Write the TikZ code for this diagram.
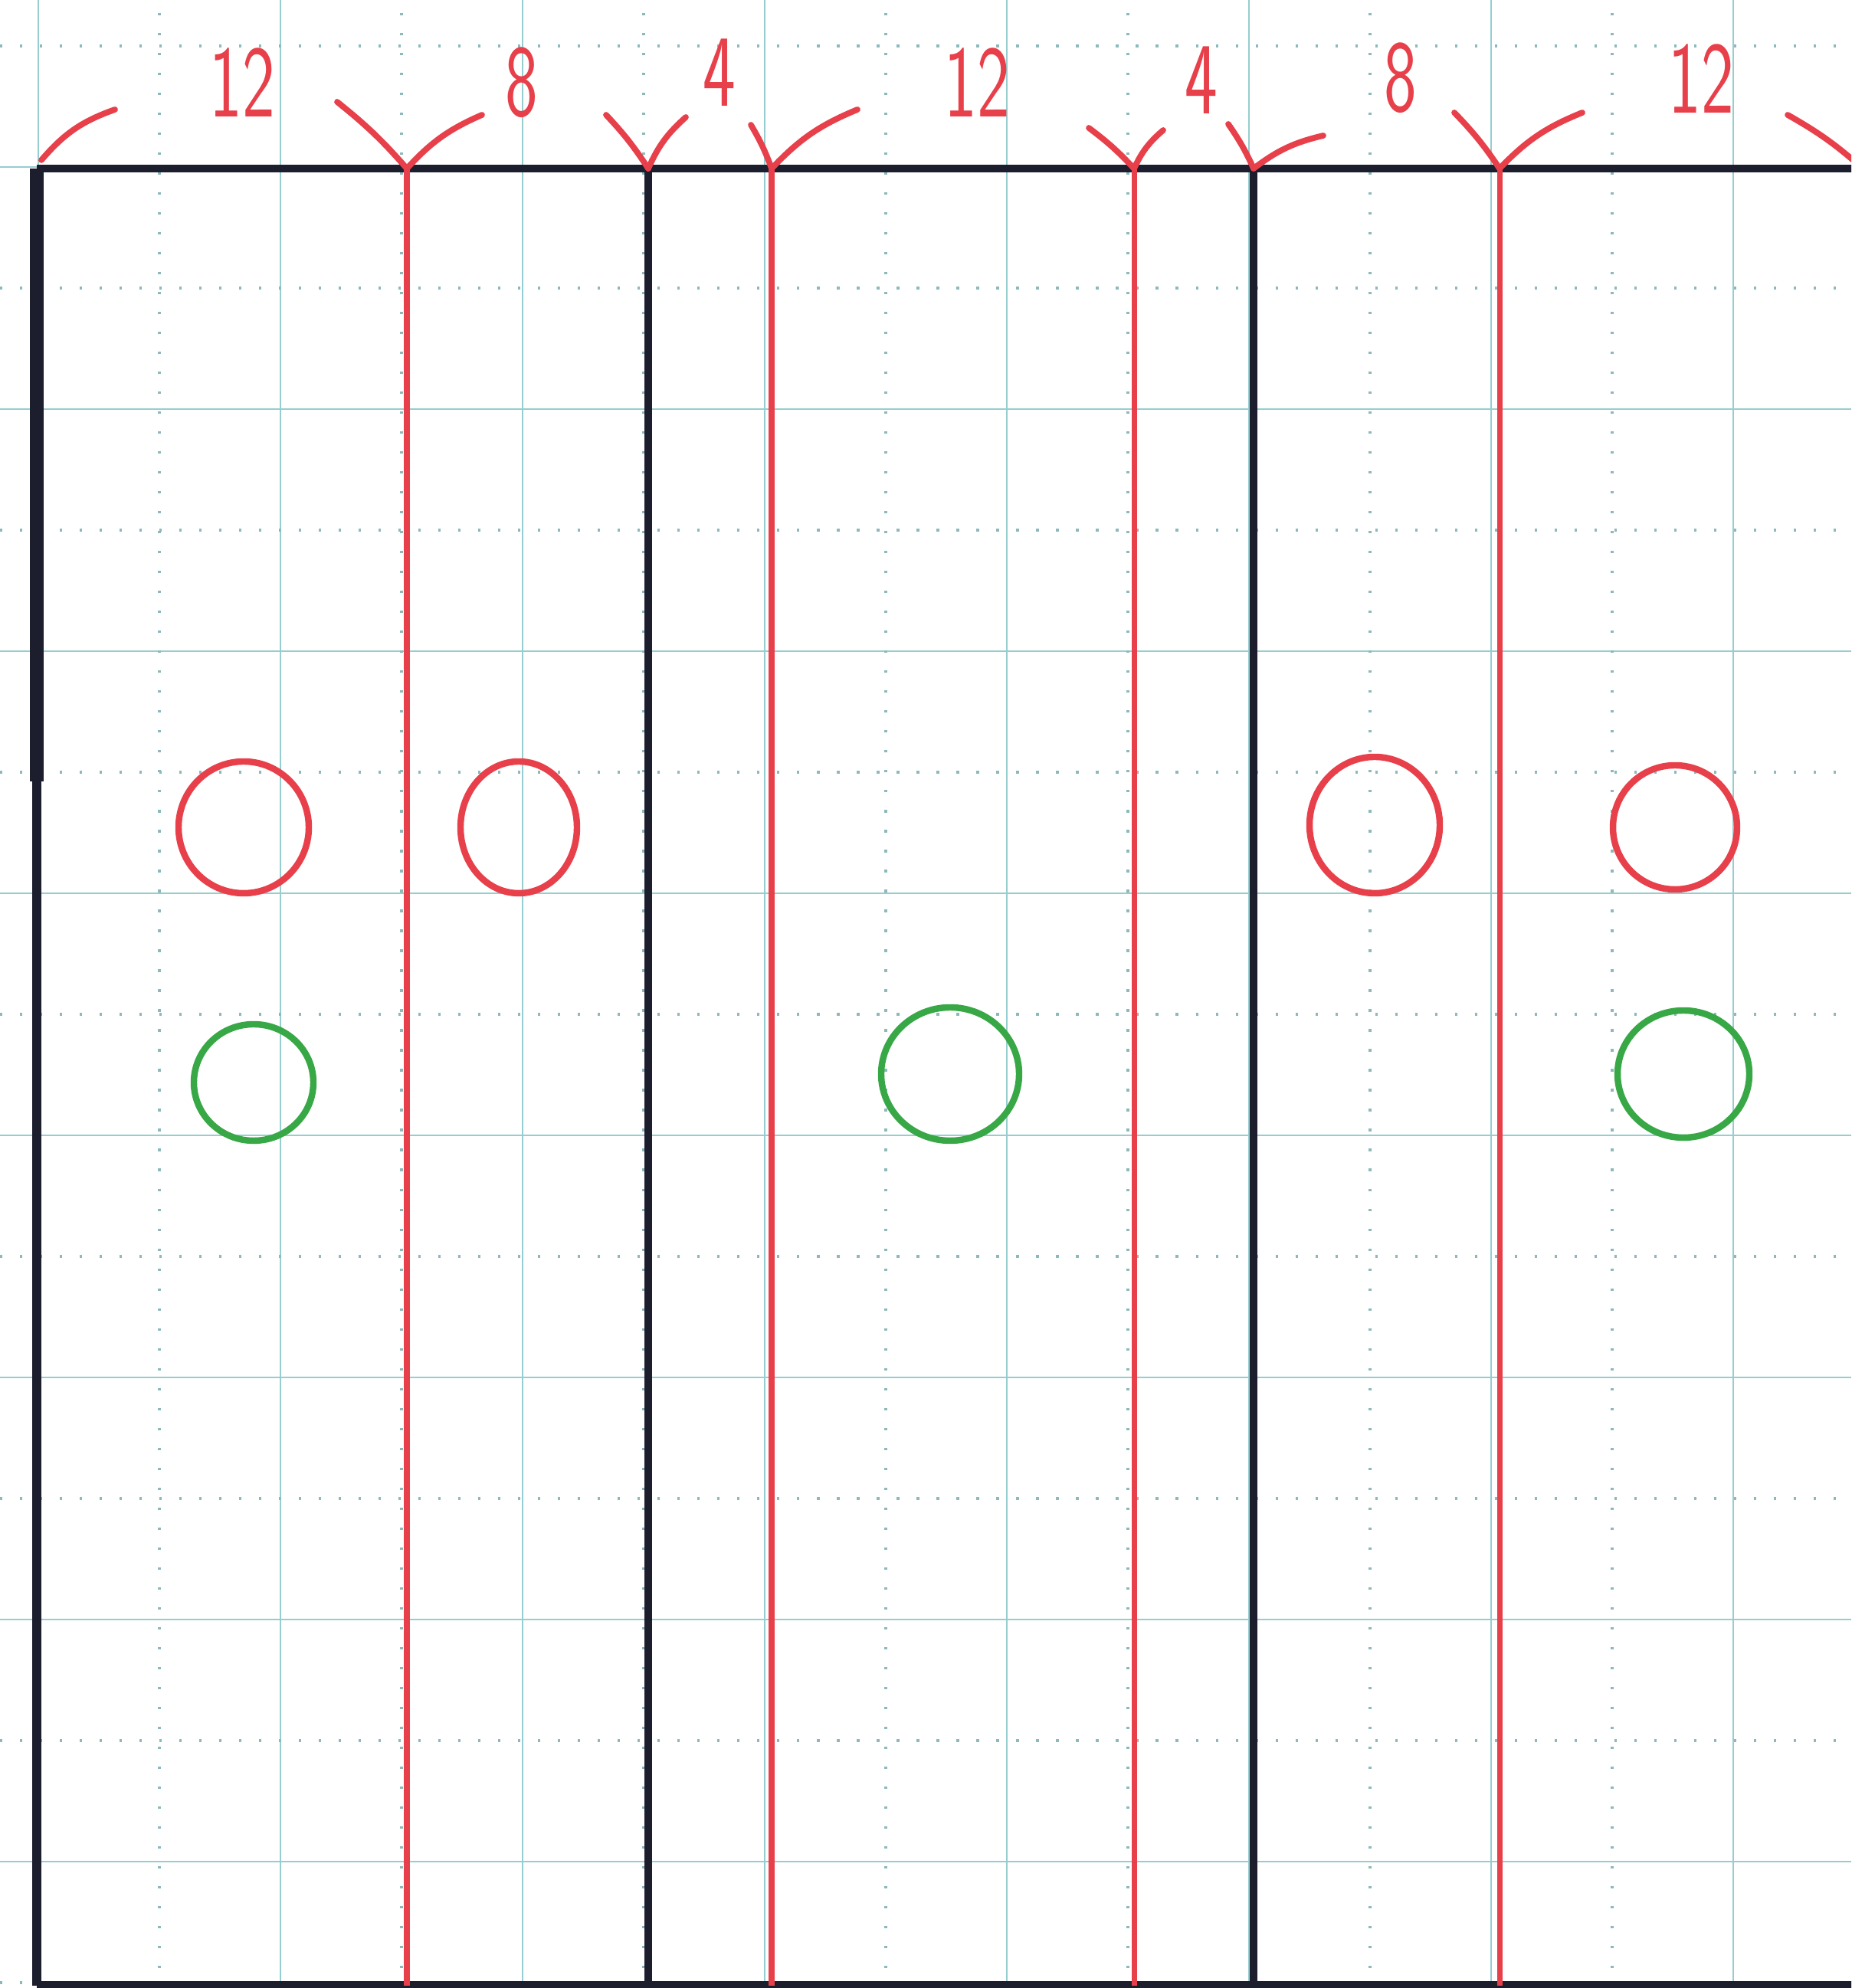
\documentclass[tikz,border=0pt]{standalone}
\usepackage{tikz}
\usetikzlibrary{positioning}

\definecolor{rasterfarbe}{RGB}{150,205,207}
\definecolor{punktfarbe}{RGB}{140,185,188}
\definecolor{rotstift}{RGB}{232,64,74}
\definecolor{gruenstift}{RGB}{56,168,70}
\definecolor{tinte}{RGB}{28,30,46}

\newcommand{\schmal}[1]{\scalebox{0.68}[1]{#1}}

\tikzset{
	raster/.style={rasterfarbe, line width=0.8pt},
	rasterpunkte/.style={punktfarbe, line width=1pt, dash pattern=on 0.9pt off 6.5pt},
	wand/.style={tinte, line width=2.6pt},
	achse/.style={rotstift, line width=2pt},
	bogen/.style={rotstift, line width=2.2pt, line cap=round},
	masszahl/.style={text=rotstift, font=\sffamily\fontsize{38}{40}\selectfont, inner sep=0pt},
	rotkreis/.style={rotstift, line width=2.4pt},
	gruenkreis/.style={gruenstift, line width=2.4pt}
}

\begin{document}
\begin{tikzpicture}
			\clip (0,0) rectangle (24.16,25.95);
			\fill[white] (0,0) rectangle (24.16,25.95);
			
			% Raster
			\foreach \k in {0,...,7} {
				\pgfmathsetmacro{\xpos}{0.50+3.16*\k}
				\pgfmathsetmacro{\ypos}{23.77-3.16*\k}
				\draw[raster] (\xpos,0) -- (\xpos,25.95);
				\draw[raster] (0,\ypos) -- (24.16,\ypos);
			}
			\foreach \k in {0,...,8} {
				\pgfmathsetmacro{\xpos}{2.08+3.16*\k}
				\pgfmathsetmacro{\ypos}{25.35-3.16*\k}
				\draw[rasterpunkte] (\xpos,0) -- (\xpos,25.95);
				\draw[rasterpunkte] (0,\ypos) -- (24.16,\ypos);
			}
			
			% Eckpunkte oben und unten
			\coordinate (p0) at (0.48,23.75);
			\coordinate (k0) at (0.48,15.75);
			\coordinate (q0) at (0.48,0.03);
			\coordinate (p7) at (24.31,23.75);
			\coordinate (q7) at (24.31,0.03);
			
			% Rahmen
			\draw[wand] (p0) -- (p7);
			\draw[wand, line width=5pt] (p0) -- (k0);
			\draw[wand, line width=3.2pt] (k0) -- (q0);
			\draw[wand, line width=3.2pt] (q0) -- (q7);
			
			% Trennlinien
			\foreach \n/\x/\art in {1/5.31/achse, 2/8.46/wand, 3/10.07/achse, 4/14.80/achse, 5/16.36/wand, 6/19.57/achse} {
				\coordinate (p\n) at (\x,23.75);
				\coordinate (q\n) at (\x,0.03);
				\draw[\art] (p\n) -- (q\n);
			}
			
			% Bemassung
			\draw[bogen] (0.54,23.86) to[bend left=15] (1.50,24.52);
			\foreach \n/\lx/\ly/\rx/\ry in {1/4.40/24.62/6.29/24.45, 2/7.91/24.45/8.95/24.42, 3/9.80/24.32/11.19/24.52, 4/14.21/24.28/15.18/24.25, 5/16.03/24.33/17.27/24.18, 6/18.98/24.48/20.65/24.48} {
				\draw[bogen] (\lx,\ly) to[bend left=5] (p\n);
				\draw[bogen] (p\n) to[bend left=12] (\rx,\ry);
			}
			\draw[bogen] (23.33,24.45) to[bend left=6] (p7);
			
			% Masszahlen
			\foreach \t/\x/\y/\n in {12/3.16/24.87/a, 8/6.81/24.87/b, 4/9.39/25.00/c, 12/12.75/24.87/d, 4/15.68/24.90/e, 8/18.28/24.93/f, 12/22.20/24.92/g} {
				\node[masszahl] (m\n) at (\x,\y) {\schmal{\t}};
			}
			
			% Kreise
			\draw[rotkreis] (3.18,15.15) ellipse [x radius=0.85, y radius=0.86];
			\draw[rotkreis] (6.77,15.15) ellipse [x radius=0.76, y radius=0.86];
			\draw[rotkreis] (17.94,15.18) ellipse [x radius=0.85, y radius=0.89];
			\draw[rotkreis] (21.86,15.15) ellipse [x radius=0.81, y radius=0.81];
			\draw[gruenkreis] (3.31,11.82) ellipse [x radius=0.78, y radius=0.76];
			\draw[gruenkreis] (12.40,11.93) ellipse [x radius=0.90, y radius=0.87];
			\draw[gruenkreis] (21.97,11.93) ellipse [x radius=0.86, y radius=0.83];
		\end{tikzpicture}
\end{document}
